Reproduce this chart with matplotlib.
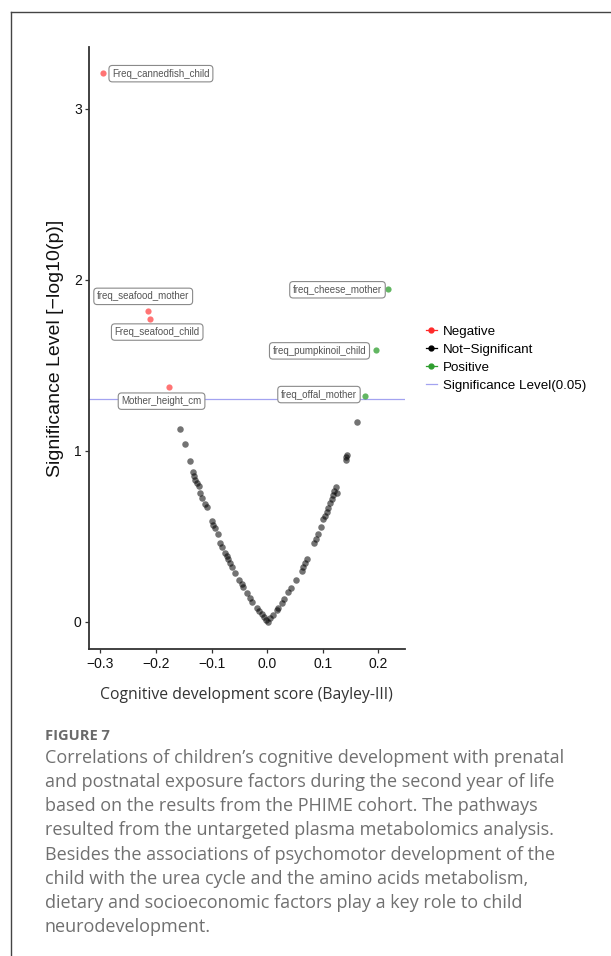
import matplotlib
matplotlib.use("Agg")
import matplotlib.pyplot as plt
from matplotlib.lines import Line2D

# ---------------- data ----------------
neg_names = ["Freq_cannedfish_child", "freq_seafood_mother", "Freq_seafood_child", "Mother_height_cm"]
neg_x = [-0.2955, -0.214, -0.2104, -0.1774]
neg_y = [3.21, 1.815, 1.77, 1.372]

pos_names = ["freq_cheese_mother", "freq_pumpkinoil_child", "freq_offal_mother"]
pos_x = [0.2183, 0.1967, 0.176]
pos_y = [1.947, 1.59, 1.32]

ns_x = [-0.157, -0.148, -0.1385, -0.133, -0.131, -0.129, -0.126, -0.123, -0.120, -0.118,
        -0.112, -0.109, -0.100, -0.097, -0.094, -0.089, -0.084, -0.081, -0.076, -0.073,
        -0.070, -0.067, -0.064, -0.057, -0.050, -0.046, -0.043, -0.037, -0.031, -0.027,
        -0.018, -0.015, -0.010, -0.006, -0.002, 0.001,
        0.006, 0.011, 0.017, 0.020, 0.026, 0.030, 0.038, 0.042, 0.052, 0.062,
        0.065, 0.068, 0.071, 0.085, 0.087, 0.092, 0.096, 0.101, 0.104, 0.107,
        0.110, 0.113, 0.116, 0.118, 0.120, 0.123, 0.126, 0.141, 0.1415, 0.143, 0.161]
ns_y = [1.129, 1.039, 0.94, 0.876, 0.85, 0.83, 0.811, 0.795, 0.753, 0.723,
        0.69, 0.674, 0.587, 0.567, 0.548, 0.515, 0.46, 0.44, 0.405, 0.386,
        0.367, 0.347, 0.323, 0.288, 0.246, 0.222, 0.203, 0.168, 0.139, 0.119,
        0.08, 0.066, 0.045, 0.027, 0.012, 0.002,
        0.022, 0.041, 0.07, 0.08, 0.113, 0.134, 0.177, 0.197, 0.246, 0.30,
        0.32, 0.343, 0.367, 0.464, 0.484, 0.515, 0.557, 0.60, 0.62, 0.645,
        0.668, 0.694, 0.717, 0.743, 0.766, 0.788, 0.756, 0.947, 0.963, 0.977, 1.171]

sig_level = 1.30103  # -log10(0.05)

x_ticks = [-0.3, -0.2, -0.1, 0.0, 0.1, 0.2]
x_ticklabels = ["\u22120.3", "\u22120.2", "\u22120.1", "0.0", "0.1", "0.2"]
y_ticks = [0, 1, 2, 3]

legend_labels = ["Negative", "Not\u2212Significant", "Positive", "Significance Level(0.05)"]

caption_title = "FIGURE 7"
caption_lines = [
    "Correlations of children\u2019s cognitive development with prenatal",
    "and postnatal exposure factors during the second year of life",
    "based on the results from the PHIME cohort. The pathways",
    "resulted from the untargeted plasma metabolomics analysis.",
    "Besides the associations of psychomotor development of the",
    "child with the urea cycle and the amino acids metabolism,",
    "dietary and socioeconomic factors play a key role to child",
    "neurodevelopment.",
]

# label offsets (pixels) relative to their points, ggrepel-like placement
neg_offsets = [(58, -1), (-5, 15), (7, -13), (-7, -14)]
pos_offsets = [(-51, -1), (-57, -1), (-46, 1.5)]

# ---------------- figure ----------------
W, H = 611, 956
fig = plt.figure(figsize=(W / 100, H / 100), dpi=100)
fig.patch.set_facecolor("white")

sans = ["Liberation Sans", "DejaVu Sans"]
cap_font = ["Open Sans", "DejaVu Sans"]

ax = fig.add_axes([89.3 / W, 1 - 649.3 / H, (405 - 89.3) / W, (649.3 - 47) / H])
ax.set_xlim(-0.32, 0.248)
ax.set_ylim(-0.16, 3.36)

red = "#ff2a2a"
green = "#2e9e2e"
ax.scatter(ns_x, ns_y, s=22, color="black", alpha=0.55, linewidths=0, zorder=3)
ax.scatter(neg_x, neg_y, s=20, color=red, alpha=0.65, linewidths=0, zorder=3)
ax.scatter(pos_x, pos_y, s=20, color=green, alpha=0.75, linewidths=0, zorder=3)
ax.axhline(sig_level, color="#a3a3f0", lw=0.9, zorder=2)

box = dict(boxstyle="round,pad=0.33,rounding_size=0.35", fc="white", ec="#8a8a8a", lw=0.8)
for name, x, y, off in zip(neg_names + pos_names, neg_x + pos_x, neg_y + pos_y,
                           neg_offsets + pos_offsets):
    ax.annotate(name, (x, y), xytext=off, textcoords="offset pixels",
                ha="center", va="center", fontsize=7, family=sans, color="#555555",
                bbox=box, zorder=4)

for s in ["top", "right"]:
    ax.spines[s].set_visible(False)
for s in ["left", "bottom"]:
    ax.spines[s].set_color("#333333")
    ax.spines[s].set_linewidth(1.3)

ax.set_xticks(x_ticks)
ax.set_xticklabels(x_ticklabels)
ax.set_yticks(y_ticks)
ax.set_yticklabels([str(v) for v in y_ticks])
ax.tick_params(axis="both", length=3, width=0.9, color="#333333", labelsize=10,
               labelcolor="#111111", pad=2.5)
for lab in ax.get_xticklabels() + ax.get_yticklabels():
    lab.set_family(sans)

ax.set_ylabel("Significance Level [\u2212log10(p)]", fontsize=14, family=sans, color="#111111")
ax.yaxis.set_label_coords(-(89.3 - 64) / (405 - 89.3), 0.5)
fig.text(246.7 / W, 1 - 695 / H, "Cognitive development score (Bayley-III)",
         ha="center", va="center", fontsize=11.3, family=cap_font, color="#333333")

handles = [
    Line2D([], [], color=red, marker="o", markersize=3.5, lw=0.9),
    Line2D([], [], color="black", marker="o", markersize=3.5, lw=0.9),
    Line2D([], [], color=green, marker="o", markersize=3.5, lw=0.9),
    Line2D([], [], color="#a3a3f0", lw=0.9),
]
fig.legend(handles, legend_labels, loc="center left",
           bbox_to_anchor=(426 / W, 1 - 358.5 / H), frameon=False,
           prop={"family": sans, "size": 9.6}, handlelength=0.8, handletextpad=0.45,
           labelspacing=0.42, borderpad=0, borderaxespad=0)

# frame decorations
fig.add_artist(Line2D([11 / W, 1.0], [1 - 12 / H, 1 - 12 / H], transform=fig.transFigure,
                      color="#444444", lw=1.0))
fig.add_artist(Line2D([11 / W, 11 / W], [1 - 12 / H, 0.0], transform=fig.transFigure,
                      color="#444444", lw=1.0))

# caption
fig.text(45 / W, 1 - 736 / H, caption_title, ha="left", va="center", fontsize=10.5,
         family=cap_font, weight="bold", color="#6a6a6a")
for i, line in enumerate(caption_lines):
    fig.text(45 / W, 1 - (758 + 24.15 * i) / H, line, ha="left", va="center",
             fontsize=13, family=cap_font, color="#707070")

fig.savefig("out.png", dpi=100)
